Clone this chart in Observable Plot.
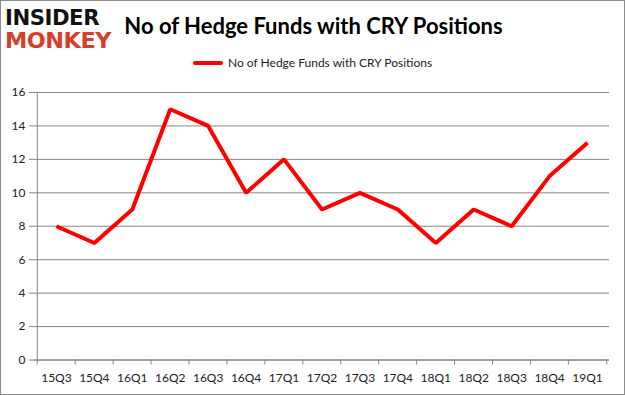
<!DOCTYPE html>
<html>
<head>
<meta charset="utf-8">
<script src="https://cdn.jsdelivr.net/npm/d3@7"></script>
<script src="https://cdn.jsdelivr.net/npm/@observablehq/plot@0.6"></script>
<style>
  html, body { margin: 0; padding: 0; background: #fff; }
  #wrap { position: relative; width: 623px; height: 393px; border: 1px solid #8c8c8c; overflow: hidden; font-family: Lato, "Open Sans", sans-serif; }
  .logo { position: absolute; left: 4px; font-family: "DejaVu Sans", sans-serif; font-weight: 900; font-size: 22px; line-height: 22px; transform-origin: left top; letter-spacing: -0.5px; }
  #title { position: absolute; left: 0; width: 625px; top: 11px; text-align: center; font-family: Lato, sans-serif; font-weight: bold; font-size: 22px; color: #000; }
  #legend { position: absolute; top: 54px; left: 192px; font-size: 12px; color: #222; display: flex; align-items: center; }
  #legend .sw { width: 30px; height: 4px; background: #ff0000; margin-right: 5px; border-radius: 2px; }
  #chart { position: absolute; left: -1px; top: 79px; }
</style>
</head>
<body>
<div id="wrap">
  <div class="logo" id="l1" style="top:7px;color:#111;">INSIDER</div>
  <div class="logo" id="l2" style="top:30px;color:#d6402b;">MONKEY</div>
  <div id="title">No of Hedge Funds with CRY Positions</div>
  <div id="legend"><div class="sw"></div><span>No of Hedge Funds with CRY Positions</span></div>
  <div id="chart"></div>
</div>
<script>
const quarters = ["15Q3","15Q4","16Q1","16Q2","16Q3","16Q4","17Q1","17Q2","17Q3","17Q4","18Q1","18Q2","18Q3","18Q4","19Q1"];
const funds = [8, 7, 9, 15, 14, 10, 12, 9, 10, 9, 7, 9, 8, 11, 13];
const yTicks = [0, 2, 4, 6, 8, 10, 12, 14, 16];

const data = quarters.map((q, i) => ({q, v: funds[i]}));

const W = 625, H = 316;
const mL = 34, mR = 15, mT = 12, mB = 36;
const bw = (W - mL - mR) / quarters.length;

const plot = Plot.plot({
  width: W,
  height: H,
  marginLeft: mL,
  marginRight: mR,
  marginTop: mT,
  marginBottom: mB,
  style: {fontFamily: "Lato, 'Open Sans', sans-serif", fontSize: "12px", color: "#222", background: "transparent"},
  x: {type: "band", domain: quarters, padding: 0, label: null},
  y: {domain: [0, 16], ticks: yTicks, label: null},
  marks: [
    Plot.gridY(yTicks, {stroke: "#868686", strokeOpacity: 1, strokeWidth: 1}),
    Plot.axisY(yTicks, {tickSize: 5, tickPadding: 4, stroke: "#868686", fill: "#222", fontSize: 12}),
    Plot.ruleX([0], {x: () => quarters[0], dx: -bw / 2, y1: 0, y2: 16, stroke: "#868686"}),
    Plot.axisX({tickSize: 0, tickPadding: 13, fill: "#222", fontSize: 12}),
    Plot.ruleX(quarters, {x: d => d, dx: -bw / 2, y1: 0, y2: -0.3, stroke: "#868686"}),
    Plot.ruleX([quarters[quarters.length - 1]], {x: d => d, dx: bw / 2, y1: 0, y2: -0.3, stroke: "#868686"}),
    Plot.ruleY([0], {stroke: "#868686"}),
    Plot.line(data, {x: "q", y: "v", stroke: "#ff0000", strokeWidth: 4, strokeLinejoin: "miter", strokeLinecap: "butt"})
  ]
});
document.getElementById("chart").appendChild(plot);

function fit(id, w) {
  const el = document.getElementById(id);
  const r = el.getBoundingClientRect().width;
  el.style.transform = `scale(${w / r}, 0.95)`;
}
fit("l1", 94);
fit("l2", 106);
</script>
</body>
</html>
